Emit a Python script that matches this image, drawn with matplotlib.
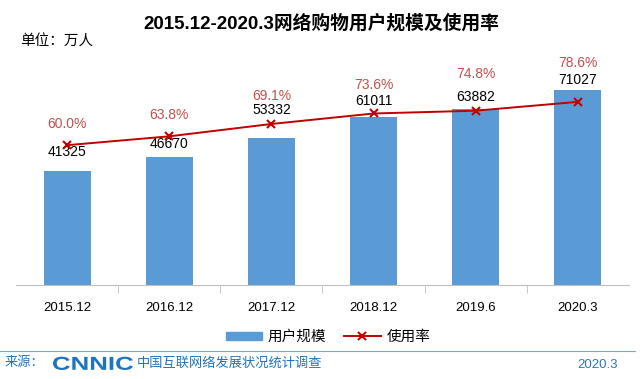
import matplotlib.pyplot as plt
from matplotlib.lines import Line2D
from matplotlib.patches import Patch, PathPatch
from matplotlib.textpath import TextPath
from matplotlib.font_manager import FontProperties
from matplotlib.transforms import Affine2D

plt.rcParams['font.family'] = ['Liberation Sans', 'Noto Sans CJK SC', 'DejaVu Sans']

categories = ['2015.12', '2016.12', '2017.12', '2018.12', '2019.6', '2020.3']
users = [41325, 46670, 53332, 61011, 63882, 71027]
rate = [60.0, 63.8, 69.1, 73.6, 74.8, 78.6]

# label offsets in pixels (manual placement like the original)
user_off = [19, 13, 28, 16, 12, 10]
rate_off = [21, 21, 28, 28, 37, 39]

bar_color = '#5B9BD5'
line_color = '#C00000'
pct_color = '#C0504D'
cnnic_blue = '#1F74BE'

W, H = 642, 379
fig = plt.figure(figsize=(W / 100, H / 100), dpi=100)

ax = fig.add_axes([16 / W, 1 - 285 / H, 613 / W, 230 / H])
x = range(len(categories))
ax.bar(x, users, width=0.46, color=bar_color, zorder=2)
ax.set_xlim(-0.5, len(categories) - 0.5)
ax.set_ylim(0, 83600)
ax.set_yticks([])
for s in ['top', 'right', 'left']:
    ax.spines[s].set_visible(False)
ax.spines['bottom'].set_color('#BFBFBF')
ax.set_xticks(list(x))
ax.set_xticklabels(categories, fontsize=9.5)
ax.tick_params(axis='x', length=0, pad=12)
ax.set_xticks([i + 0.5 for i in range(len(categories) - 1)], minor=True)
ax.tick_params(axis='x', which='minor', length=6, color='#BFBFBF')

for i, v in enumerate(users):
    ax.annotate(str(v), (i, v), xytext=(0, user_off[i]), textcoords='offset pixels',
                ha='center', va='center', fontsize=10, color='black', zorder=5)

ax2 = ax.twinx()
ax2.set_ylim(0, 98.7)
ax2.axis('off')
ax2.plot(list(x), rate, color=line_color, lw=1.4, marker='x', ms=6, mew=1.5, zorder=4)
for i, v in enumerate(rate):
    ax2.annotate(f'{v:.1f}%', (i, v), xytext=(0, rate_off[i]), textcoords='offset pixels',
                 ha='center', va='center', fontsize=10, color=pct_color)

fig.text(0.5, 1 - 23 / H, '2015.12-2020.3网络购物用户规模及使用率', ha='center', va='center',
         fontsize=13.5, fontweight='bold')
fig.text(20 / W, 1 - 42 / H, '单位：万人', ha='left', va='center', fontsize=10.5)

handles = [Patch(color=bar_color),
           Line2D([0], [0], color=line_color, lw=1.4, marker='x', ms=6, mew=1.5)]
fig.legend(handles, ['用户规模', '使用率'], loc='center', bbox_to_anchor=(328 / W, 1 - 337 / H),
           ncol=2, frameon=False, fontsize=10.5, handlelength=2.5, handleheight=0.5,
           columnspacing=1.2, handletextpad=0.4)

# footer
fig.add_artist(Line2D([0, 635 / W], [1 - 351 / H] * 2, color='#7FA7D0', lw=0.8))
fig.text(5 / W, 1 - 363 / H, '来源：', ha='left', va='center', fontsize=9.5, color=cnnic_blue)

# stretched CNNIC logo text
tp = TextPath((0, 0), 'CNNIC', size=1, prop=FontProperties(family='Liberation Sans', weight='bold'))
ext = tp.get_extents()
sx = 80 / ext.width
sy = 13.3 / ext.height
logo_tf = Affine2D().translate(-ext.x0, -ext.y0).scale(sx, sy).translate(53, H - 370)
fig.add_artist(PathPatch(tp, transform=logo_tf, color=cnnic_blue, lw=0))

fig.text(137 / W, 1 - 363 / H, '中国互联网络发展状况统计调查', ha='left', va='center',
         fontsize=9.5, color=cnnic_blue)
fig.text(618 / W, 1 - 365 / H, '2020.3', ha='right', va='center', fontsize=9.5,
         color='#2E75B6')

fig.savefig('out.png', dpi=100)
